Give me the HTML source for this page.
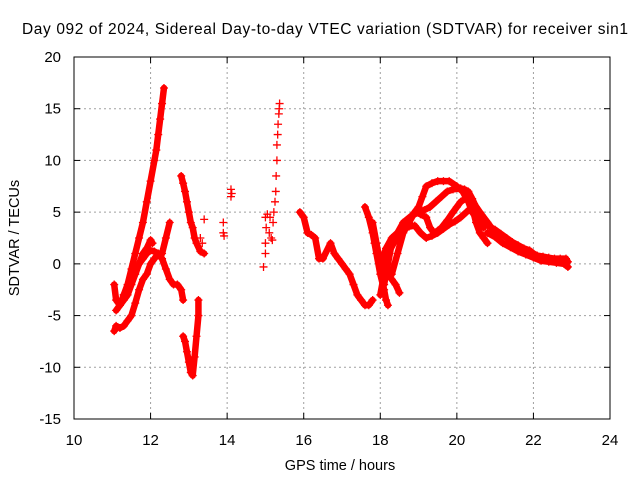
<!DOCTYPE html>
<html><head><meta charset="utf-8"><style>
body{margin:0;background:#fff;}
svg{font-family:"Liberation Sans",sans-serif;}
</style></head><body>
<svg id="chart" width="640" height="480">
<text x="325" y="34" font-size="15.5" textLength="606" lengthAdjust="spacing" text-anchor="middle" fill="#000">Day 092 of 2024, Sidereal Day-to-day VTEC variation (SDTVAR) for receiver sin1</text>
<text x="340" y="470" font-size="14.5" text-anchor="middle">GPS time / hours</text>
<text transform="translate(19,238) rotate(-90)" font-size="14.5" text-anchor="middle">SDTVAR / TECUs</text>
<g id="grid"></g><g id="ticks"></g><g id="marks"></g>
<rect x="74" y="57" width="536" height="362" fill="none" stroke="#000" stroke-width="1"/>
</svg>
<script>
const xTicks=[10,12,14,16,18,20,22,24];
const yTicks=[-15,-10,-5,0,5,10,15,20];
const trackA=[[11.3,-3],[11.4,-2],[11.5,-0.5],[11.6,1],[11.7,2.5],[11.8,4],[11.9,6],[12.0,8],[12.1,10],[12.15,11],[12.2,12.5],[12.25,14],[12.3,15.5],[12.35,17]];
const trackB=[[11.05,-6.5],[11.1,-6],[11.2,-6.2],[11.3,-6],[11.4,-5.5],[11.5,-5],[11.6,-3.8],[11.7,-2.5],[11.8,-1.5],[11.9,-1],[12.0,0],[12.1,0.5],[12.2,1],[12.3,1],[12.4,2.5],[12.5,4]];
const trackC=[[11.05,-2],[11.1,-3.5],[11.2,-4],[11.3,-3],[11.4,-2.3],[11.5,-1.5],[11.6,-0.8],[11.7,0],[11.8,0.5],[11.9,1],[12.0,1.3],[12.1,1.2],[12.2,1],[12.3,0.5],[12.4,-0.5],[12.5,-1.5],[12.6,-2],[12.7,-2],[12.8,-2.5],[12.85,-3.5]];
const trackD=[[11.1,-4.5],[11.2,-4],[11.3,-3.5],[11.4,-3],[11.5,-2],[11.6,-1],[11.7,0],[11.8,1],[11.9,1.5],[12.0,2.3],[12.05,2]];
const trackE=[[12.8,8.5],[12.85,7.8],[12.9,7],[12.95,6],[13.0,5],[13.05,4],[13.1,3.5],[13.15,2.5],[13.2,2],[13.3,1.2],[13.4,1]];
const trackF=[[12.85,-7],[12.9,-7.5],[12.95,-8.5],[13.0,-9.5],[13.05,-10.5],[13.1,-10.8],[13.15,-9],[13.2,-7],[13.25,-5],[13.25,-3.5]];
const trackG=[[13.4,4.3],[13.3,2.5],[13.35,2],[13.9,3],[13.92,2.7],[13.9,4],[14.1,6.5],[14.12,6.8],[14.1,7.2],[14.95,-0.3],[15.0,1],[15.0,2],[15.02,3.5],[15.0,4.5],[15.05,4.8],[15.1,3],[15.12,4.5],[15.15,2.5],[15.18,2.3],[15.2,4],[15.22,5],[15.25,6],[15.27,7],[15.28,8.5],[15.3,10],[15.3,11.5],[15.32,12.5],[15.33,13.5],[15.35,14.5],[15.36,15],[15.37,15.5]];
const trackH=[[15.9,5],[16.0,4.5],[16.1,3],[16.2,2.8],[16.3,2.5],[16.4,0.5],[16.5,0.5],[16.7,2],[16.8,1],[16.9,0.5],[17.0,0],[17.1,-0.5],[17.2,-1],[17.3,-2],[17.4,-3],[17.5,-3.5],[17.6,-4],[17.7,-4],[17.8,-3.5]];
const trackI=[[17.6,5.5],[17.7,4.5],[17.8,3],[17.85,2],[17.9,1],[18.0,-1],[18.1,-2.5],[18.15,-3.5],[18.2,-4]];
const trackI2=[[17.8,4],[17.9,2],[18.0,0],[18.1,-1],[18.2,-1],[18.3,-1.5],[18.4,-2],[18.5,-2.8]];
const trackJ=[[18.0,-3],[18.1,-1],[18.2,1],[18.35,2],[18.5,3],[18.65,3.8],[18.8,4.5],[19.0,5.5],[19.1,6.5],[19.2,7.5],[19.35,7.8],[19.5,8],[19.65,8],[19.8,8],[20.0,7.5],[20.15,7],[20.3,6],[20.4,5],[20.5,4.5],[20.7,3.5]];
const trackK=[[18.1,-2],[18.2,0],[18.3,2],[18.45,3],[18.6,4],[18.8,4.6],[19.0,5],[19.15,5.2],[19.3,5.5],[19.45,6],[19.6,6.5],[19.75,7],[19.9,7.2],[20.1,7.3],[20.2,7.2],[20.3,7],[20.4,6.3],[20.5,5.5],[20.65,4.7],[20.8,4],[21.0,3]];
const trackL=[[18.3,-1],[18.45,1],[18.6,3],[18.75,4],[18.9,5],[19.05,4.8],[19.2,4.5],[19.3,3.5],[19.4,3],[19.5,3.2],[19.6,3.5],[19.75,4.2],[19.9,5],[20.0,5.5],[20.1,6],[20.3,6.5],[20.45,5.8],[20.6,5],[20.8,4]];
const trackM=[[18.0,0],[18.15,1.5],[18.3,2.5],[18.45,3],[18.6,3.5],[18.75,3.6],[18.9,3.7],[19.05,3],[19.2,2.5],[19.35,2.7],[19.5,3],[19.65,3.4],[19.8,3.8],[19.95,4.1],[20.1,4.5],[20.25,5],[20.4,5.5],[20.5,4],[20.6,3],[20.7,2.5],[20.8,2]];
const trackN=[[20.7,4],[20.85,3.6],[21.0,3.3],[21.15,2.9],[21.3,2.5],[21.45,2.1],[21.6,1.8],[21.75,1.5],[21.9,1.3],[22.0,1],[22.1,0.8],[22.25,0.7],[22.4,0.6],[22.55,0.5],[22.7,0.5],[22.85,0.5],[22.9,0.2]];
const trackN2=[[20.8,3],[21.0,2.6],[21.2,2],[21.4,1.6],[21.6,1.2],[21.8,0.9],[22.0,0.6],[22.2,0.3],[22.4,0.2],[22.6,0.1],[22.8,0],[22.9,-0.3]];
const tracks=[trackA,trackB,trackC,trackD,trackE,trackF,trackG,trackH,trackI,trackI2,trackJ,trackK,trackL,trackM,trackN,trackN2];
const connected=[true,true,true,true,true,true,false,true,true,true,true,true,true,true,true,true];

const X0=74,X1=610,Y0=419,Y1=57;
const xs=t=>X0+(t-10)/(24-10)*(X1-X0);
const ys=v=>Y0-(v-(-15))/(20-(-15))*(Y0-Y1);
const NS="http://www.w3.org/2000/svg";
const grid=document.getElementById('grid'),ticks=document.getElementById('ticks'),marks=document.getElementById('marks');
function mk(tag,attrs,parent){const e=document.createElementNS(NS,tag);for(const k in attrs)e.setAttribute(k,attrs[k]);parent.appendChild(e);return e;}
xTicks.forEach(t=>{
  const x=xs(t);
  if(t>10&&t<24){const g=mk('line',{x1:x,x2:x,y1:Y1,y2:Y0,stroke:'#a0a0a0','stroke-dasharray':'2,3','stroke-width':1},grid);
  
  }
  mk('line',{x1:x,x2:x,y1:Y0,y2:Y0-6,stroke:'#000'},ticks);
  mk('line',{x1:x,x2:x,y1:Y1,y2:Y1+6,stroke:'#000'},ticks);
  const tx=mk('text',{x:x,y:Y0+26,'font-size':15,'text-anchor':'middle'},ticks);tx.textContent=t;
  
  
});
yTicks.forEach(v=>{
  const y=ys(v);
  if(v>-15&&v<20){const g=mk('line',{x1:X0,x2:X1,y1:y,y2:y,stroke:'#a0a0a0','stroke-dasharray':'2,3','stroke-width':1},grid);
  
  }
  mk('line',{x1:X0,x2:X0+6,y1:y,y2:y,stroke:'#000'},ticks);
  mk('line',{x1:X1,x2:X1-6,y1:y,y2:y,stroke:'#000'},ticks);
  const tx=mk('text',{x:X0-13,y:y+5,'font-size':15,'text-anchor':'end'},ticks);tx.textContent=v;
  
  
});
tracks.forEach((tr,i)=>{
  const g=mk('g',{},marks);
  
  
  if(connected[i]){
    mk('polyline',{points:tr.map(p=>xs(p[0])+','+ys(p[1])).join(' '),fill:'none',stroke:'#f00','stroke-width':6.5,'stroke-linejoin':'round','stroke-linecap':'round'},g);
  }
  tr.forEach(p=>{
    const x=xs(p[0]),y=ys(p[1]);
    mk('path',{d:`M${x-4},${y}H${x+4}M${x},${y-4}V${y+4}`,stroke:'#f00','stroke-width':1.3},g);
  });
});
</script>
</body></html>
